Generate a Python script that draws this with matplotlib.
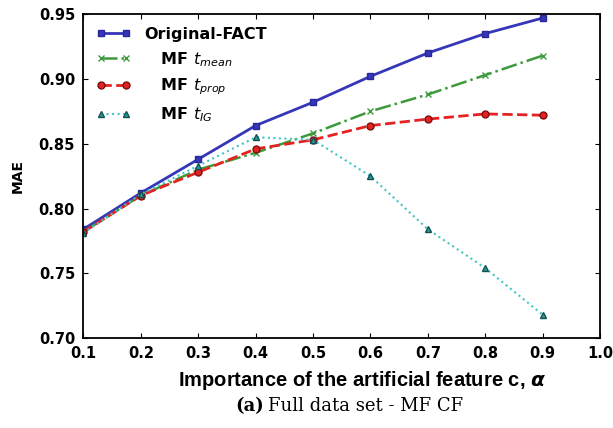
import matplotlib
matplotlib.use("Agg")
import matplotlib.pyplot as plt

# valori
alpha = [0.1, 0.2, 0.3, 0.4, 0.5, 0.6, 0.7, 0.8, 0.9]
original_fact = [0.784, 0.812, 0.838, 0.864, 0.882, 0.902, 0.920, 0.935, 0.947]
mf_mean = [0.782, 0.810, 0.830, 0.843, 0.858, 0.875, 0.888, 0.903, 0.918]
mf_prop = [0.782, 0.810, 0.828, 0.846, 0.853, 0.864, 0.869, 0.873, 0.872]
mf_ig = [0.781, 0.811, 0.833, 0.855, 0.853, 0.825, 0.784, 0.754, 0.718]

xticks = [0.1, 0.2, 0.3, 0.4, 0.5, 0.6, 0.7, 0.8, 0.9, 1.0]
yticks = [0.70, 0.75, 0.80, 0.85, 0.90, 0.95]

fig = plt.figure(figsize=(6.13, 4.28), dpi=100)
ax = fig.add_axes([0.136, 0.21, 0.843, 0.757])

ax.plot(alpha, original_fact, '-s', color='#3636b8', lw=2, ms=4.5,
        mec='#28289a', label='Original-FACT')
ax.plot(alpha, mf_mean, '-.x', color='#3c9a3c', lw=1.8, ms=4.5,
        label=r'   MF $t_{mean}$')
ax.plot(alpha, mf_prop, '--o', color='#e42222', lw=2, ms=5,
        mec='#7a1010', label=r'   MF $t_{prop}$')
ax.plot(alpha, mf_ig, ':^', color='#45c4c4', lw=1.5, ms=5,
        mfc='#2a9a9a', mec='#145050', label=r'   MF $t_{IG}$')

ax.set_xlim(0.1, 1.0)
ax.set_ylim(0.70, 0.95)
ax.set_xticks(xticks)
ax.set_yticks(yticks)
ax.set_xticklabels(['%.1f' % t for t in xticks])
ax.set_yticklabels(['%.2f' % t for t in yticks])
ax.tick_params(direction='in', top=True, right=True, labelsize=10.5, pad=6)
for lab in ax.get_xticklabels() + ax.get_yticklabels():
    lab.set_fontweight('bold')
for s in ax.spines.values():
    s.set_linewidth(1.3)

ax.set_xlabel(r'Importance of the artificial feature c, $\mathbfit{\alpha}$',
              fontsize=14.5, fontweight='bold', fontfamily='Liberation Sans')
ax.xaxis.set_label_coords(0.54, -0.095)
ax.set_ylabel('MAE', fontsize=10, fontweight='bold', labelpad=10)

leg = ax.legend(loc='upper left', frameon=False, numpoints=2, fontsize=11.5,
                handlelength=2.2, borderaxespad=0.4, labelspacing=0.5)
for t in leg.get_texts():
    t.set_fontweight('bold')

fig.text(0.43, 0.04, '(a)', fontfamily='DejaVu Serif', fontweight='bold',
         fontsize=13, ha='right')
fig.text(0.438, 0.04, 'Full data set - MF CF', fontfamily='DejaVu Serif',
         fontsize=13, ha='left')

fig.savefig('out.png', dpi=100)
